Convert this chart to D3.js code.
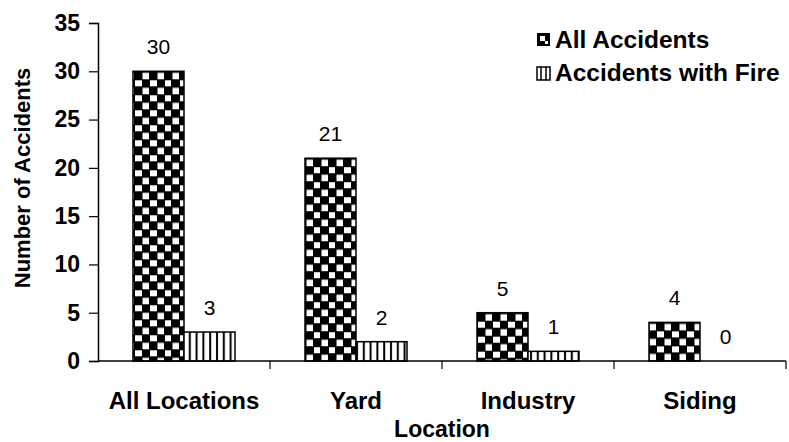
<!DOCTYPE html>
<html><head><meta charset="utf-8">
<script src="https://cdn.jsdelivr.net/npm/d3@7"></script>
<style>
body{margin:0;background:#fff;}
svg{display:block;}
text{font-family:"Liberation Sans",Arial,sans-serif;fill:#000;}
</style></head>
<body>
<svg id="chart" width="789" height="442"></svg>
<script>
const categories = ["All Locations", "Yard", "Industry", "Siding"];
const seriesNames = ["All Accidents", "Accidents with Fire"];
const allAccidents = [30, 21, 5, 4];
const fireAccidents = [3, 2, 1, 0];
const yTicks = [0, 5, 10, 15, 20, 25, 30, 35];

(function(){
const svg = d3.select("#chart");
const defs = svg.append("defs");
const mLeft = 98, mRight = 786, mTop = 23, mBottom = 361;

const x0 = d3.scaleBand().domain(categories).range([mLeft, mRight]).padding(0);
const x1 = d3.scaleBand().domain(seriesNames).range([35, 137]).padding(0);
const y = d3.scaleLinear().domain([0, 35]).range([mBottom, mTop]);

const data = categories.map((c, i) => ({cat: c, values: [
  {s: seriesNames[0], v: allAccidents[i]},
  {s: seriesNames[1], v: fireAccidents[i]}
]}));

function checker(id, px, py) {
  const p = defs.append("pattern").attr("id", id).attr("patternUnits", "userSpaceOnUse")
    .attr("width", 15).attr("height", 15).attr("x", px).attr("y", py);
  p.append("rect").attr("width", 15).attr("height", 15).attr("fill", "#000");
  p.append("rect").attr("x", 1.5).attr("y", 1.5).attr("width", 6.5).attr("height", 6.5).attr("fill", "#fff");
  p.append("rect").attr("x", 9).attr("y", 9).attr("width", 6.5).attr("height", 6.5).attr("fill", "#fff");
}
function stripes(id, px, py) {
  const p = defs.append("pattern").attr("id", id).attr("patternUnits", "userSpaceOnUse")
    .attr("width", 6.8).attr("height", 10).attr("x", px).attr("y", py);
  p.append("rect").attr("width", 6.8).attr("height", 10).attr("fill", "#fff");
  p.append("rect").attr("x", 2).attr("y", 0).attr("width", 2).attr("height", 10).attr("fill", "#000");
}

const groups = svg.append("g").selectAll("g").data(data).join("g")
  .attr("transform", d => `translate(${x0(d.cat)},0)`);

groups.each(function(d, ci) {
  const g = d3.select(this);
  d.values.forEach((e, si) => {
    const bx = x1(e.s), bw = x1.bandwidth();
    const id = `pat${ci}_${si}`;
    const absX = x0(d.cat) + bx;
    if (si === 0) checker(id, absX, y(e.v)); else stripes(id, absX, y(e.v));
    if (e.v > 0) {
      g.append("rect").attr("x", bx).attr("y", y(e.v)).attr("width", bw)
        .attr("height", y(0) - y(e.v)).attr("fill", `url(#${id})`)
        .attr("stroke", "#000").attr("stroke-width", 1.5);
    }
    g.append("text").attr("x", bx + bw / 2).attr("y", y(e.v) - 17)
      .attr("text-anchor", "middle").style("font-size", "21px").text(e.v);
  });
});

const yAxis = svg.append("g").attr("transform", `translate(${mLeft},0)`)
  .call(d3.axisLeft(y).tickValues(yTicks).tickSize(9).tickPadding(9));
yAxis.select(".domain").attr("stroke", "#000").attr("stroke-width", 1.5);
yAxis.selectAll(".tick line").attr("stroke", "#000").attr("stroke-width", 1.2);
yAxis.selectAll(".tick text").style("font-size", "23px").style("font-weight", "bold")
  .style("font-family", "'Liberation Sans',Arial,sans-serif").attr("fill", "#000");

const xa = svg.append("g").attr("transform", `translate(0,${mBottom})`);
xa.append("line").attr("x1", mLeft).attr("x2", mRight).attr("y1", 0).attr("y2", 0)
  .attr("stroke", "#000").attr("stroke-width", 1.5);
const bounds = categories.map(c => x0(c)).slice(1).concat([mRight]);
xa.selectAll("line.tk").data(bounds).join("line").attr("class", "tk")
  .attr("x1", d => d).attr("x2", d => d).attr("y1", 0).attr("y2", 8)
  .attr("stroke", "#000").attr("stroke-width", 1.2);
xa.selectAll("text.cl").data(categories).join("text").attr("class", "cl")
  .attr("x", d => x0(d) + x0.bandwidth() / 2).attr("y", 48)
  .attr("text-anchor", "middle").style("font-size", "24px").style("font-weight", "bold")
  .text(d => d);

svg.append("text").attr("x", (mLeft + mRight) / 2).attr("y", 437).attr("text-anchor", "middle")
  .style("font-size", "23px").style("font-weight", "bold").text("Location");
svg.append("text").attr("transform", "translate(30,178) rotate(-90)").attr("text-anchor", "middle")
  .style("font-size", "22px").style("font-weight", "bold").text("Number of Accidents");

const lg = svg.append("g");
const legRows = [
  {name: seriesNames[0], iy: 33, ty: 48},
  {name: seriesNames[1], iy: 67, ty: 81}
];
lg.append("rect").attr("x", 537).attr("y", legRows[0].iy).attr("width", 13).attr("height", 13).attr("fill", "#000");
lg.append("rect").attr("x", 540).attr("y", legRows[0].iy + 3).attr("width", 5).attr("height", 5).attr("fill", "#fff");
lg.append("rect").attr("x", 545).attr("y", legRows[0].iy + 8).attr("width", 3).attr("height", 3).attr("fill", "#fff");
lg.append("rect").attr("x", 537).attr("y", legRows[1].iy).attr("width", 13).attr("height", 13)
  .attr("fill", "#fff").attr("stroke", "#000").attr("stroke-width", 1.5);
[541, 546].forEach(xx => lg.append("rect").attr("x", xx - 0.75).attr("y", legRows[1].iy)
  .attr("width", 1.5).attr("height", 13).attr("fill", "#000"));
lg.selectAll("text").data(legRows).join("text").attr("x", 555).attr("y", d => d.ty)
  .style("font-size", "24.5px").style("font-weight", "bold").text(d => d.name);
})();
</script>
</body></html>
